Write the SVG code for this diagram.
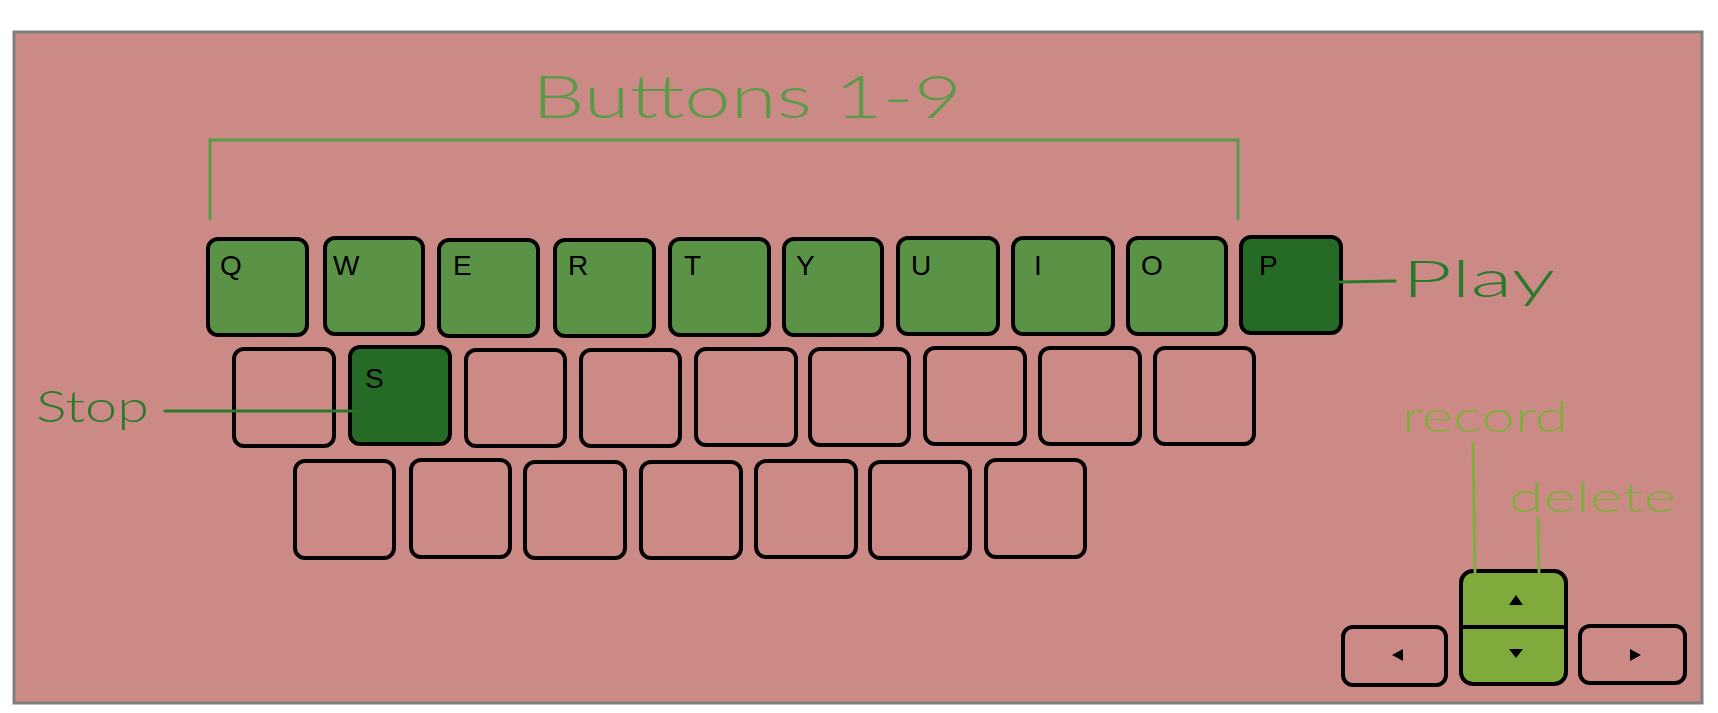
<svg xmlns="http://www.w3.org/2000/svg" width="1718" height="713" viewBox="0 0 1718 713">
<style>
.key{stroke:#000;stroke-width:4;stroke-linejoin:round}
.blank{fill:#cc8a86}
.lg{fill:#5a9346}
.dg{fill:#256b25}
.ud{fill:#80ab3c}
.kl{font-family:"Liberation Sans",Arial,sans-serif;font-size:28px;fill:#000}
.hand{font-family:"Lato","Liberation Sans",Arial,sans-serif;font-weight:300}
.ln{fill:none;stroke-width:3;stroke-linecap:round}
.tri{fill:#000}
</style>
<rect x="14" y="32" width="1688" height="671" fill="#cc8a86" stroke="#7f7f7f" stroke-width="3"/>
<g id="title"><text class="hand" x="532" y="118" font-size="60" fill="#5a9a48" textLength="430" lengthAdjust="spacingAndGlyphs">Buttons 1-9</text></g>
<g id="labels">
<text class="hand" x="1402" y="297" font-size="52" fill="#2a7a2c" textLength="153" lengthAdjust="spacingAndGlyphs">Play</text>
<text class="hand" x="36" y="422" font-size="44" fill="#2a7a2c" textLength="113" lengthAdjust="spacingAndGlyphs">Stop</text>
<text class="hand" x="1402" y="432" font-size="44" fill="#7fae3d" textLength="166" lengthAdjust="spacingAndGlyphs">record</text>
<text class="hand" x="1509" y="512" font-size="42" fill="#7fae3d" textLength="167" lengthAdjust="spacingAndGlyphs">delete</text>
</g>
<g id="row1">
<g id="key-Q"><rect class="key lg" x="208" y="239" width="99" height="96" rx="10"/><text class="kl" x="220" y="275">Q</text></g>
<g id="key-W"><rect class="key lg" x="325" y="238" width="98" height="96" rx="10"/><text class="kl" x="333" y="275">W</text></g>
<g id="key-E"><rect class="key lg" x="439" y="240" width="99" height="96" rx="10"/><text class="kl" x="453" y="275">E</text></g>
<g id="key-R"><rect class="key lg" x="555" y="240" width="99" height="96" rx="10"/><text class="kl" x="568" y="275">R</text></g>
<g id="key-T"><rect class="key lg" x="670" y="239" width="99" height="96" rx="10"/><text class="kl" x="684" y="275">T</text></g>
<g id="key-Y"><rect class="key lg" x="784" y="239" width="98" height="96" rx="10"/><text class="kl" x="796" y="275">Y</text></g>
<g id="key-U"><rect class="key lg" x="898" y="238" width="100" height="96" rx="10"/><text class="kl" x="911" y="275">U</text></g>
<g id="key-I"><rect class="key lg" x="1013" y="238" width="100" height="96" rx="10"/><text class="kl" x="1034" y="275">I</text></g>
<g id="key-O"><rect class="key lg" x="1128" y="238" width="98" height="96" rx="10"/><text class="kl" x="1141" y="275">O</text></g>
<g id="key-P"><rect class="key dg" x="1241" y="237" width="100" height="96" rx="10"/><text class="kl" x="1259" y="275">P</text></g>
</g>
<g id="row2">
<g id="r2k1"><rect class="key blank" x="234" y="349" width="100" height="97" rx="10"/></g>
<g id="key-S"><rect class="key dg" x="350" y="347" width="100" height="97" rx="10"/><text class="kl" x="365" y="388">S</text></g>
<g id="r2k3"><rect class="key blank" x="466" y="350" width="99" height="96" rx="10"/></g>
<g id="r2k4"><rect class="key blank" x="581" y="350" width="99" height="96" rx="10"/></g>
<g id="r2k5"><rect class="key blank" x="696" y="349" width="100" height="96" rx="10"/></g>
<g id="r2k6"><rect class="key blank" x="810" y="349" width="99" height="96" rx="10"/></g>
<g id="r2k7"><rect class="key blank" x="925" y="348" width="100" height="96" rx="10"/></g>
<g id="r2k8"><rect class="key blank" x="1040" y="348" width="100" height="96" rx="10"/></g>
<g id="r2k9"><rect class="key blank" x="1155" y="348" width="99" height="96" rx="10"/></g>
</g>
<g id="row3">
<g id="r3k1"><rect class="key blank" x="295" y="461" width="99" height="97" rx="10"/></g>
<g id="r3k2"><rect class="key blank" x="411" y="460" width="99" height="97" rx="10"/></g>
<g id="r3k3"><rect class="key blank" x="525" y="462" width="100" height="96" rx="10"/></g>
<g id="r3k4"><rect class="key blank" x="641" y="462" width="100" height="96" rx="10"/></g>
<g id="r3k5"><rect class="key blank" x="756" y="461" width="100" height="96" rx="10"/></g>
<g id="r3k6"><rect class="key blank" x="870" y="462" width="100" height="96" rx="10"/></g>
<g id="r3k7"><rect class="key blank" x="986" y="460" width="99" height="97" rx="10"/></g>
</g>
<g id="arrows">
<g id="key-left"><rect class="key blank" x="1343" y="627" width="103" height="58" rx="10"/><path class="tri" d="M1392 655 L1403 649 L1403 661 Z"/></g>
<g id="key-updown"><rect class="key ud" x="1461" y="571" width="105" height="113" rx="12"/><path d="M1461 627 L1566 627" stroke="#000" stroke-width="4"/><path class="tri" d="M1509 605 L1516 595 L1523 605 Z"/><path class="tri" d="M1509 649 L1523 649 L1516 658 Z"/></g>
<g id="key-right"><rect class="key blank" x="1580" y="626" width="105" height="57" rx="10"/><path class="tri" d="M1641 655 L1630 649 L1630 661 Z"/></g>
</g>
<g id="connectors">
<path class="ln" d="M210 219 L210 140 L1238 140 L1238 219" stroke="#5a9a48" stroke-width="2.5"/>
<path class="ln" d="M1340 282 L1395 281" stroke="#2a7a2c"/>
<path class="ln" d="M165 411 L352 411" stroke="#2a7a2c"/>
<path class="ln" d="M1473 443 L1475 572" stroke="#7fae3d"/>
<path class="ln" d="M1538 518 L1539 572" stroke="#7fae3d"/>
</g>
</svg>
